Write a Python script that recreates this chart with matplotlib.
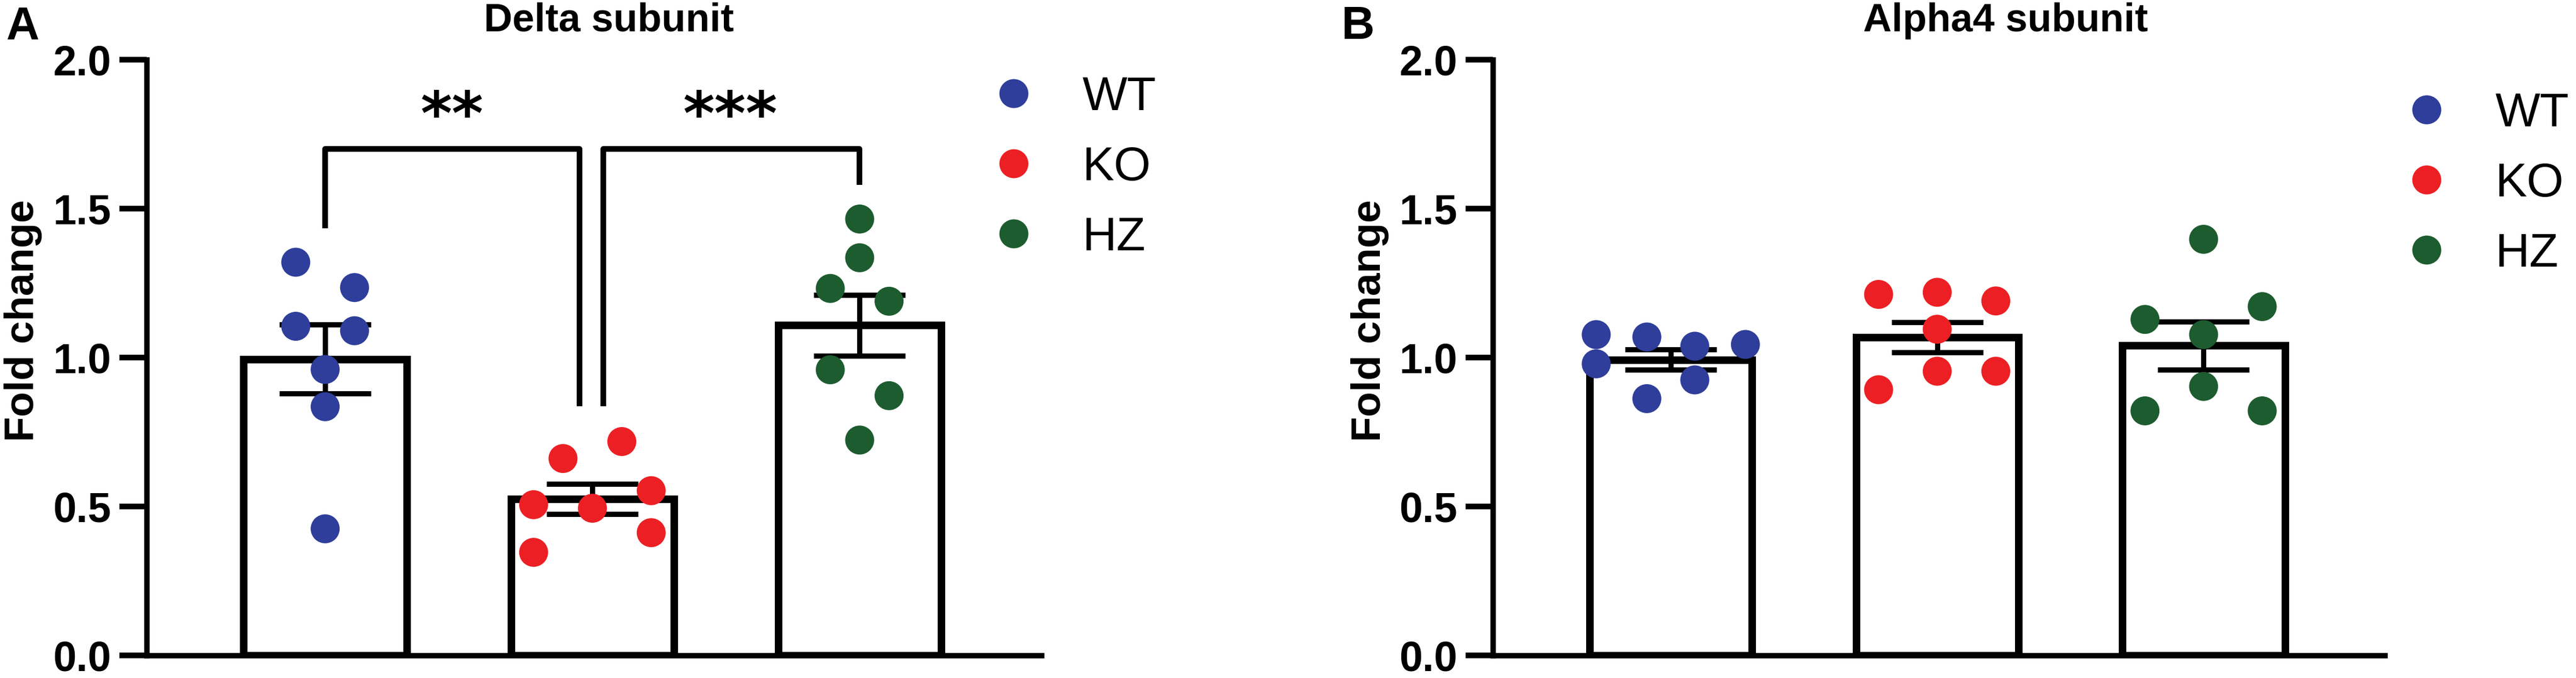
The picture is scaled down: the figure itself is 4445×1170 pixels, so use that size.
import numpy as np
import matplotlib
matplotlib.use("Agg")
import matplotlib.pyplot as plt
from matplotlib.lines import Line2D

plt.rcParams['font.family'] = ['Liberation Sans', 'DejaVu Sans']

# groups and colours
groups = ['WT', 'KO', 'HZ']
colors = ['#2E3E9A', '#EC2024', '#1D5C2F']

# Panel A: delta subunit
delta_wt = [1.32, 1.235, 1.105, 1.09, 0.96, 0.835, 0.425]
delta_wt_dx = [-0.11, 0.11, -0.11, 0.11, 0.0, 0.0, 0.0]
delta_ko = [0.661, 0.718, 0.553, 0.506, 0.494, 0.412, 0.346]
delta_ko_dx = [-0.11, 0.11, 0.22, -0.22, 0.0, 0.22, -0.22]
delta_hz = [1.465, 1.335, 1.232, 1.189, 0.959, 0.872, 0.723]
delta_hz_dx = [0.0, 0.0, -0.11, 0.11, -0.11, 0.11, 0.0]
delta_mean = [0.995, 0.525, 1.108]
delta_sem = [0.115, 0.051, 0.102]

# Panel B: alpha4 subunit
alpha_wt = [1.077, 0.979, 1.069, 0.862, 1.038, 0.925, 1.044]
alpha_wt_dx = [-0.28, -0.28, -0.09, -0.09, 0.09, 0.09, 0.28]
alpha_ko = [1.212, 0.892, 1.219, 1.095, 0.954, 1.19, 0.954]
alpha_ko_dx = [-0.22, -0.22, 0.0, 0.0, 0.0, 0.22, 0.22]
alpha_hz = [1.397, 1.128, 1.171, 1.077, 0.903, 0.821, 0.821]
alpha_hz_dx = [0.0, -0.22, 0.22, 0.0, 0.0, -0.22, 0.22]
alpha_mean = [0.993, 1.068, 1.04]
alpha_sem = [0.034, 0.051, 0.08]

yticks = [0.0, 0.5, 1.0, 1.5, 2.0]

W, H = 4445, 1170
fig = plt.figure(figsize=(W / 100, H / 100), dpi=100)

axA = fig.add_axes([253 / W, 39 / H, (1797 - 253) / W, 1028 / H])
axB = fig.add_axes([2576 / W, 39 / H, (4115 - 2576) / W, 1028 / H])


def draw_panel(ax, points, offsets, means, sems):
    x = np.arange(len(groups))
    ax.bar(x, means, width=0.61, color='white', edgecolor='black',
           linewidth=9.4, zorder=2)
    ax.errorbar(x, means, yerr=sems, fmt='none', ecolor='black',
                elinewidth=6.5, capsize=57, capthick=6.5, zorder=3)
    for i, (vals, dx) in enumerate(zip(points, offsets)):
        ax.scatter(i + np.array(dx), vals, s=36 ** 2, color=colors[i],
                   edgecolors='none', zorder=4, clip_on=False)
    ax.set_xlim(-0.668, 2.68)
    ax.set_ylim(0, 2.0)
    ax.set_yticks(yticks)
    ax.set_yticklabels(['%.1f' % t for t in yticks])
    ax.set_xticks([])
    for s in ['top', 'right']:
        ax.spines[s].set_visible(False)
    for s in ['left', 'bottom']:
        ax.spines[s].set_linewidth(6.8)
    ax.tick_params(axis='y', length=34, width=7, pad=10, labelsize=52)
    for lab in ax.get_yticklabels():
        lab.set_fontweight('bold')
    ax.text(-0.138, 0.562, 'Fold change', transform=ax.transAxes,
            rotation=90, ha='center', va='center', fontsize=51,
            fontweight='bold')
    handles = [Line2D([], [], linestyle='none', marker='o', markersize=36,
                      markerfacecolor=c, markeredgecolor='none')
               for c in colors]
    return handles


hA = draw_panel(axA, [delta_wt, delta_ko, delta_hz],
                [delta_wt_dx, delta_ko_dx, delta_hz_dx], delta_mean, delta_sem)
hB = draw_panel(axB, [alpha_wt, alpha_ko, alpha_hz],
                [alpha_wt_dx, alpha_ko_dx, alpha_hz_dx], alpha_mean, alpha_sem)

# significance brackets on panel A
axA.plot([0, 0, 0.952, 0.952], [1.434, 1.70, 1.70, 0.836], color='black',
         lw=7, solid_capstyle='butt', zorder=3)
axA.plot([1.041, 1.041, 2.0, 2.0], [0.836, 1.70, 1.70, 1.58], color='black',
         lw=7, solid_capstyle='butt', zorder=3)
axA.text(0.475, 1.805, '**', ha='center', va='center', fontsize=75,
         fontweight='bold', family='DejaVu Sans')
axA.text(1.516, 1.805, '***', ha='center', va='center', fontsize=75,
         fontweight='bold', family='DejaVu Sans')

# legends
for handles, lx, ly in [(hA, 1716, 131), (hB, 4154, 159)]:
    fig.legend(handles, groups, loc='upper left',
               bbox_to_anchor=(lx / W, 1 - ly / H), bbox_transform=fig.transFigure,
               frameon=False, fontsize=59, handlelength=0.8, handletextpad=1.05,
               labelspacing=0.55, borderpad=0, borderaxespad=0, numpoints=1)

# titles and panel letters
fig.text(1051 / W, 1 - 54 / H, 'Delta subunit', ha='center', va='baseline',
         fontsize=49, fontweight='bold')
fig.text(3461 / W, 1 - 54 / H, 'Alpha4 subunit', ha='center', va='baseline',
         fontsize=49, fontweight='bold')
fig.text(10 / W, 1 - 68 / H, 'A', ha='left', va='baseline', fontsize=57,
         fontweight='bold')
fig.text(2315 / W, 1 - 67 / H, 'B', ha='left', va='baseline', fontsize=57,
         fontweight='bold')

fig.savefig('out.png', dpi=100)
